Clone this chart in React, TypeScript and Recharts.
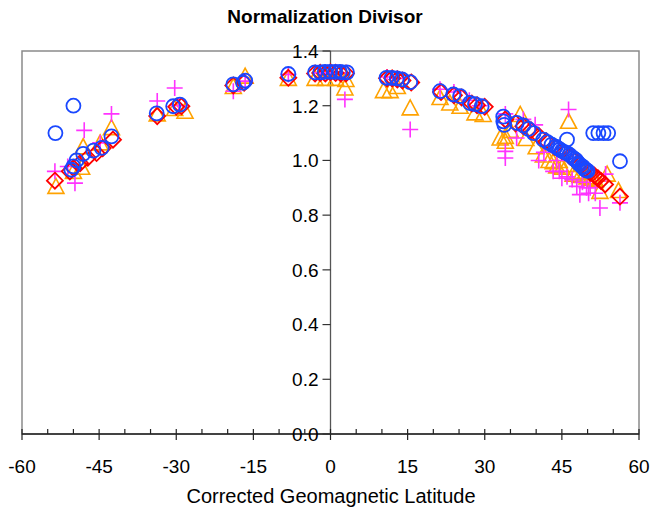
import React from "react";
import { ScatterChart, Scatter, XAxis, YAxis, ReferenceLine, ReferenceArea } from "recharts";

// ---- data ----
const xTicks = [-60, -55, -50, -45, -40, -35, -30, -25, -20, -15, -10, -5, 0, 5, 10, 15, 20, 25, 30, 35, 40, 45, 50, 55, 60];
const yTicks = [0, 0.2, 0.4, 0.6, 0.8, 1.0, 1.2, 1.4];

const triLat = [-53.4, -50, -48.4, -48.1, -44.8, -42.6, -33.7, -30.3, -28.3, -18.9, -16.6, -8.2, -3, -1, 1, 3, 2.8, 10.3, 11.6, 13, 15.5, 21.3, 23.2, 25.2, 28.1, 29.7, 33, 34, 34, 35, 36.9, 38, 40, 41.4, 42.5, 43.3, 44, 44.5, 45, 46.3, 46, 47.2, 48, 48.5, 49.5, 49.9, 50.5, 51, 51.5, 52.4, 53.8, 56];
const triVal = [0.905, 0.96, 0.975, 1.05, 1.064, 1.12, 1.17, 1.19, 1.18, 1.27, 1.308, 1.3, 1.3, 1.3, 1.3, 1.296, 1.265, 1.255, 1.255, 1.27, 1.192, 1.23, 1.21, 1.198, 1.174, 1.168, 1.082, 1.088, 1.07, 1.11, 1.168, 1.08, 1.05, 1.02, 1.0, 0.995, 0.98, 1.0, 0.975, 1.143, 0.985, 0.95, 0.96, 0.945, 0.955, 0.94, 0.935, 0.94, 0.93, 0.887, 0.95, 0.89];

const plusLat = [-53.6, -51.1, -49.7, -47.9, -44.8, -42.6, -33.7, -30.3, -29.5, -18.9, -16.6, -8.2, -2, 0, 2, 2.8, 11, 13, 15.5, 21.3, 24, 27, 29, 34, 34, 34, 36.2, 37.5, 39.8, 40.5, 41.5, 43.3, 44, 44.5, 45, 46, 46.3, 47, 47.9, 48.5, 49, 49.8, 50.2, 50.5, 51.5, 52.4, 53.5, 56.3];
const plusVal = [0.96, 0.978, 0.917, 1.11, 1.064, 1.17, 1.217, 1.265, 1.2, 1.253, 1.29, 1.314, 1.32, 1.32, 1.32, 1.223, 1.305, 1.3, 1.113, 1.26, 1.25, 1.22, 1.2, 1.033, 1.009, 1.17, 1.082, 1.15, 1.13, 1.0, 1.03, 0.96, 1.0, 0.96, 0.935, 0.94, 1.186, 0.93, 0.905, 0.875, 0.92, 0.9, 0.88, 0.9, 0.88, 0.826, 0.95, 0.845];

const diaLat = [-53.6, -50.7, -50.0, -48.7, -47.2, -45.5, -44.3, -42.3, -33.7, -30.0, -29.0, -18.9, -16.8, -8.2, -3, -2, -1, 0, 1, 2, 3, 11, 12, 13, 14, 15.7, 21.5, 24, 25.5, 27.5, 28.5, 30, 34, 36, 37.5, 39, 40.5, 42, 43.5, 45, 46.5, 47.5, 48.5, 49.5, 50.5, 51.3, 52.0, 52.6, 53.4, 56.3];
const diaVal = [0.926, 0.96, 0.972, 0.99, 1.01, 1.027, 1.045, 1.076, 1.162, 1.196, 1.198, 1.274, 1.284, 1.302, 1.318, 1.32, 1.318, 1.322, 1.32, 1.318, 1.318, 1.3, 1.3, 1.296, 1.292, 1.285, 1.25, 1.238, 1.23, 1.208, 1.202, 1.196, 1.15, 1.136, 1.125, 1.11, 1.09, 1.07, 1.05, 1.035, 1.015, 1.0, 0.985, 0.97, 0.955, 0.945, 0.935, 0.925, 0.912, 0.868];

const cirLat = [-53.5, -50.0, -50.4, -50.0, -49.4, -48.1, -46.1, -44.5, -42.6, -33.8, -30.6, -29.3, -18.9, -17.0, -16.6, -8.2, -3.0, -2.0, -1.1, -0.1, 0.9, 1.8, 2.4, 3.2, 10.9, 11.9, 12.9, 13.9, 15.5, 21.3, 23.9, 25.2, 27.1, 28.1, 29.4, 33.6, 33.6, 33.8, 36.2, 37.5, 38.5, 39.5, 41.4, 42.2, 43.0, 43.8, 44.2, 44.6, 45.0, 45.5, 46.0, 46.5, 47.2, 47.5, 47.8, 48.2, 48.5, 48.9, 49.2, 49.5, 49.8, 50.0, 46.0, 51.1, 52.1, 53.1, 54.0, 56.3];
const cirVal = [1.1, 1.2, 0.966, 0.978, 1.0, 1.024, 1.036, 1.046, 1.088, 1.172, 1.198, 1.204, 1.278, 1.284, 1.292, 1.316, 1.322, 1.322, 1.324, 1.324, 1.324, 1.324, 1.322, 1.322, 1.302, 1.302, 1.3, 1.296, 1.286, 1.253, 1.241, 1.235, 1.21, 1.206, 1.198, 1.16, 1.143, 1.13, 1.137, 1.128, 1.115, 1.1, 1.076, 1.067, 1.058, 1.05, 1.045, 1.04, 1.035, 1.03, 1.027, 1.02, 1.009, 1.005, 1.0, 0.99, 0.985, 0.978, 0.975, 0.966, 0.964, 0.962, 1.076, 1.1, 1.1, 1.1, 1.1, 0.997];

const toPts = (xs: number[], ys: number[]) => xs.map((x, i) => ({ x, y: ys[i] }));

// ---- layout ----
const W = 650;
const H = 508;
const X_AXIS_H = 50;
const Y_AXIS_W = 20;
const M = { top: 51, right: 11, bottom: 74 - X_AXIS_H, left: 22 - Y_AXIS_W };
const ZERO_OFF = (W - 22 - 11) / 2;
const FONT = "'Liberation Sans', Arial, sans-serif";

const ORANGE = "#FFA200";
const MAGENTA = "#FF33FF";
const RED = "#FF0000";
const BLUE = "#1A48FF";

const TriShape = (p: any) => {
  const { cx, cy } = p;
  return <polygon points={`${cx},${cy - 8} ${cx - 8},${cy + 7} ${cx + 8},${cy + 7}`} fill="none" stroke={ORANGE} strokeWidth={1.6} />;
};
const PlusShape = (p: any) => {
  const { cx, cy } = p;
  return <path d={`M${cx - 8},${cy}H${cx + 8}M${cx},${cy - 8}V${cy + 8}`} fill="none" stroke={MAGENTA} strokeWidth={1.6} />;
};
const DiaShape = (p: any) => {
  const { cx, cy } = p;
  return <polygon points={`${cx},${cy - 8} ${cx + 8},${cy} ${cx},${cy + 8} ${cx - 8},${cy}`} fill="none" stroke={RED} strokeWidth={1.8} />;
};
const CirShape = (p: any) => {
  const { cx, cy } = p;
  return <circle cx={cx} cy={cy} r={7} fill="none" stroke={BLUE} strokeWidth={1.8} />;
};

const XTick = (p: any) => {
  const { x, y, payload } = p;
  const v = payload.value;
  const major = v % 15 === 0;
  return (
    <g>
      <line x1={x} x2={x} y1={y - 5} y2={major ? y + 6 : y} stroke="#222" strokeWidth={1.2} />
      {major && (
        <text x={x} y={y + 39} textAnchor="middle" fontSize={19} fontFamily={FONT} fill="#000">
          {v}
        </text>
      )}
    </g>
  );
};

const YTick = (p: any) => {
  const { x, y, payload } = p;
  const ax = x + ZERO_OFF;
  return (
    <g>
      <line x1={ax - 8} x2={ax} y1={y} y2={y} stroke="#333" strokeWidth={1.2} />
      <text x={ax - 12} y={y} dy="0.36em" textAnchor="end" fontSize={19} fontFamily={FONT} fill="#000">
        {Number(payload.value).toFixed(1)}
      </text>
    </g>
  );
};

export default function App() {
  return (
    <div style={{ position: "relative", width: W, height: H, background: "#fff" }}>
      <style>{`body{margin:0}`}</style>
      <div
        style={{
          position: "absolute",
          left: 0,
          top: 6,
          width: W,
          textAlign: "center",
          fontFamily: FONT,
          fontWeight: "bold",
          fontSize: 19,
          color: "#000",
        }}
      >
        Normalization Divisor
      </div>
      <div
        style={{
          position: "absolute",
          left: 0,
          top: 485,
          width: W,
          textAlign: "center",
          fontFamily: FONT,
          fontSize: 20,
          color: "#000",
          paddingLeft: 12,
          boxSizing: "border-box",
        }}
      >
        Corrected Geomagnetic Latitude
      </div>
      <div style={{ position: "absolute", left: 0, top: 0 }}>
        <ScatterChart width={W} height={H} margin={M}>
          <ReferenceArea x1={-60} x2={60} y1={0} y2={1.4} fill="none" stroke="#8a8a8a" strokeWidth={1.5} ifOverflow="visible" />
          <XAxis
            type="number"
            dataKey="x"
            domain={[-60, 60]}
            ticks={xTicks}
            interval={0}
            height={X_AXIS_H}
            tickSize={0}
            tickMargin={0}
            tick={<XTick />}
            tickLine={false}
            axisLine={{ stroke: "#222", strokeWidth: 1.5 }}
            allowDataOverflow
          />
          <YAxis
            type="number"
            dataKey="y"
            domain={[0, 1.4]}
            ticks={yTicks}
            interval={0}
            width={Y_AXIS_W}
            tickSize={0}
            tickMargin={0}
            tick={<YTick />}
            tickLine={false}
            axisLine={false}
            allowDataOverflow
          />
          <ReferenceLine x={0} stroke="#555" strokeWidth={1.3} />
          <Scatter data={toPts(triLat, triVal)} shape={<TriShape />} isAnimationActive={false} />
          <Scatter data={toPts(plusLat, plusVal)} shape={<PlusShape />} isAnimationActive={false} />
          <Scatter data={toPts(diaLat, diaVal)} shape={<DiaShape />} isAnimationActive={false} />
          <Scatter data={toPts(cirLat, cirVal)} shape={<CirShape />} isAnimationActive={false} />
        </ScatterChart>
      </div>
    </div>
  );
}
